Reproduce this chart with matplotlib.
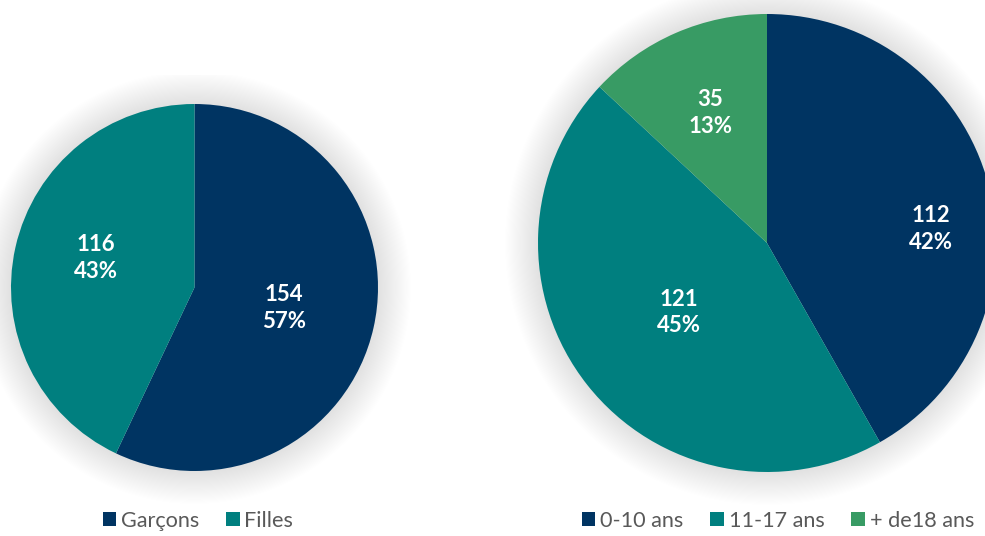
import matplotlib
matplotlib.use("Agg")
import matplotlib.pyplot as plt
import numpy as np
from matplotlib.patches import Circle, Rectangle

# ---- data ----
sexe_labels = ["Garçons", "Filles"]
sexe_values = [154, 116]
age_labels = ["0-10 ans", "11-17 ans", "+ de18 ans"]
age_values = [112, 121, 35]

navy = "#003462"
teal = "#007F7F"
green = "#389B64"
sexe_colors = [navy, teal]
age_colors = [navy, teal, green]

W, H = 985, 536
fig = plt.figure(figsize=(W / 100, H / 100), dpi=100)
ax = fig.add_axes([0, 0, 1, 1])
ax.set_xlim(0, W)
ax.set_ylim(0, H)
ax.set_aspect("equal")
ax.axis("off")

FONT = "Lato"


def shadow(cx, cy, r, clip_top=None):
    n = 30
    for k in range(n, 0, -1):
        c = Circle((cx, cy), r + k * 1.1, facecolor="#000000", alpha=0.0042,
                   edgecolor="none", zorder=0)
        ax.add_patch(c)
        if clip_top is not None:
            rect = Rectangle((0, 0), W, clip_top, transform=ax.transData)
            c.set_clip_path(rect)


def draw_pie(values, colors, center, radius, label_params):
    total = sum(values)
    wedges, _ = ax.pie(values, colors=colors, startangle=90, counterclock=False,
                       center=center, radius=radius, frame=True,
                       wedgeprops=dict(linewidth=0, zorder=2))
    for w, v, (dang, dist) in zip(wedges, values, label_params):
        ang = np.deg2rad((w.theta1 + w.theta2) / 2 + dang)
        x = center[0] + dist * radius * np.cos(ang)
        y = center[1] + dist * radius * np.sin(ang)
        pct = round(100 * v / total)
        ax.text(x, y, f"{v}\n{pct}%", ha="center", va="center", color="white",
                fontsize=16, fontweight="bold", family=FONT, linespacing=1.35,
                zorder=5)
    return wedges


# left pie (sexe)
cL, rL = (194.5, H - 287.5), 183.5
shadow(*cL, rL, clip_top=H - 75)
wL = draw_pie(sexe_values, sexe_colors, cL, rL, [(0, 0.5), (-4, 0.56)])

# right pie (age)
cR, rR = (767, H - 243), 229
shadow(*cR, rR)
wR = draw_pie(age_values, age_colors, cR, rR, [(-10, 0.72), (0, 0.49), (0, 0.62)])

ax.set_xlim(0, W)
ax.set_ylim(0, H)
ax.axis("off")

leg_kw = dict(loc="center", frameon=False, ncol=3, handlelength=0.62,
              handleheight=0.62, handletextpad=0.22, columnspacing=1.25,
              prop=dict(family=FONT, size=15.6), labelcolor="#595959",
              borderpad=0, borderaxespad=0)
leg1 = ax.legend(wL, sexe_labels, bbox_to_anchor=(198, H - 521),
                 bbox_transform=ax.transData, **leg_kw)
ax.add_artist(leg1)
leg2 = ax.legend(wR, age_labels, bbox_to_anchor=(778, H - 521),
                 bbox_transform=ax.transData, **leg_kw)

fig.savefig("out.png", dpi=100, facecolor="white")
